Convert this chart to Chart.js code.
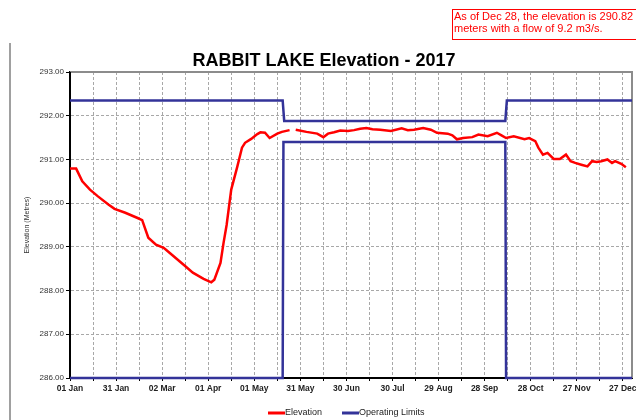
<!DOCTYPE html>
<html>
<head>
<meta charset="utf-8">
<script src="https://cdn.jsdelivr.net/npm/chart.js@4/dist/chart.umd.min.js"></script>
<style>
  body { margin: 0; background: #fff; }
  #wrap { width: 636px; height: 420px; }
</style>
</head>
<body>
<div id="wrap"><canvas id="lakeChart" width="636" height="420"></canvas></div>
<script>
// Elevation readings (day of year 2017, metres)
const elevDays = [0, 4, 8, 13, 18, 25, 29, 36, 44, 47, 51, 56, 61, 65, 74, 80, 87, 92, 94, 98,
  100, 102, 105, 109, 112, 114, 118, 122, 124, 127, 130, 135, 138, 143, 145, 147, 154, 161, 165, 168,
  172, 176, 181, 185, 189, 193, 197, 202, 209, 216, 220, 224, 230, 235, 239, 246, 249, 252, 256, 262,
  266, 272, 278, 281, 284, 289, 296, 299, 303, 305, 308, 311, 315, 319, 323, 326, 329, 333, 337, 340,
  343, 346, 350, 353, 355, 359, 362];
const elevValues = [290.79, 290.79, 290.50, 290.31, 290.16, 289.97, 289.87, 289.78, 289.66, 289.61,
  289.21, 289.05, 288.98, 288.86, 288.59, 288.41, 288.27, 288.19, 288.25, 288.63,
  289.09, 289.50, 290.31, 290.84, 291.27, 291.38, 291.47, 291.58, 291.62, 291.61,
  291.49, 291.59, 291.63, 291.67, null, 291.68, 291.63, 291.59, 291.51, 291.59,
  291.62, 291.66, 291.65, 291.67, 291.70, 291.72, 291.69, 291.68, 291.65, 291.71,
  291.67, 291.68, 291.72, 291.68, 291.61, 291.59, 291.55, 291.46, 291.49, 291.51,
  291.57, 291.53, 291.61, 291.55, 291.49, 291.53, 291.46, 291.49, 291.42, 291.27,
  291.11, 291.15, 291.01, 291.01, 291.11, 290.96, 290.92, 290.88, 290.84, 290.96,
  290.94, 290.96, 291.00, 290.92, 290.96, 290.90, 290.82];

// Operating limits
const upperDays = [0, 138.5, 139.5, 283.5, 284.5, 366];
const upperValues = [292.35, 292.35, 291.88, 291.88, 292.35, 292.35];
const lowerDays = [0, 138.5, 139, 283.5, 284, 366];
const lowerValues = [286.00, 286.00, 291.40, 291.40, 286.00, 286.00];

// Axis ticks
const gridDays = [0, 15, 30, 45, 60, 75, 90, 105, 120, 135, 150, 165, 180, 195, 210, 225, 240, 255, 270, 285, 300, 315, 330, 345, 360];
const labelDays = [0, 30, 60, 90, 120, 150, 180, 210, 240, 270, 300, 330, 360];
const tickLabels = ['01 Jan', '31 Jan', '02 Mar', '01 Apr', '01 May', '31 May', '30 Jun', '30 Jul', '29 Aug', '28 Sep', '28 Oct', '27 Nov', '27 Dec'];

const titleText = 'RABBIT LAKE Elevation - 2017';
const noteLines = ['As of Dec 28, the elevation is 290.82', 'meters with a flow of 9.2 m3/s.'];

const RED = '#ff0000';
const BLUE = '#333399';

function toPoints(xs, ys) {
    return xs.map((x, i) => ({ x: x, y: ys[i] }));
}

// titles, frame, legend and note drawn on top of the chart
const extras = {
    id: 'extras',
    beforeDatasetsDraw(chart) {
        const { ctx, chartArea: a } = chart;
        ctx.save();
        ctx.setLineDash([]);
        ctx.strokeStyle = '#8c8c8c';
        ctx.lineWidth = 2;
        ctx.beginPath();
        ctx.moveTo(a.left, a.top);
        ctx.lineTo(a.right, a.top);
        ctx.lineTo(a.right, a.bottom);
        ctx.stroke();
        // solid black axes
        ctx.strokeStyle = '#000';
        ctx.beginPath();
        ctx.moveTo(a.left, a.top);
        ctx.lineTo(a.left, a.bottom);
        ctx.lineTo(a.right, a.bottom);
        ctx.stroke();
        ctx.restore();
    },
    afterDraw(chart) {
        const { ctx, chartArea: a } = chart;
        ctx.save();
        ctx.setLineDash([]);
        // left page rule
        ctx.strokeStyle = '#a0a0a0';
        ctx.lineWidth = 2;
        ctx.beginPath();
        ctx.moveTo(10, 43);
        ctx.lineTo(10, 420);
        ctx.stroke();

        // title
        ctx.fillStyle = '#000';
        ctx.font = 'bold 18px Arial, "Liberation Sans", sans-serif';
        ctx.textAlign = 'center';
        ctx.textBaseline = 'middle';
        ctx.fillText(titleText, 324, 61);

        // y title
        ctx.save();
        ctx.translate(27, (a.top + a.bottom) / 2);
        ctx.rotate(-Math.PI / 2);
        ctx.font = '7px Arial, "Liberation Sans", sans-serif';
        ctx.fillStyle = '#333';
        ctx.fillText('Elevation (Metres)', 0, 0);
        ctx.restore();

        // note box
        ctx.strokeStyle = RED;
        ctx.lineWidth = 1;
        ctx.strokeRect(452.5, 9.5, 200, 30);
        ctx.fillStyle = RED;
        ctx.font = '11px Arial, "Liberation Sans", sans-serif';
        ctx.textAlign = 'left';
        ctx.fillText(noteLines[0], 454, 17);
        ctx.fillText(noteLines[1], 454, 29);

        // legend
        const items = [
            { text: chart.data.datasets[0].label, color: chart.data.datasets[0].borderColor, x: 268 },
            { text: chart.data.datasets[1].label, color: chart.data.datasets[1].borderColor, x: 342 }
        ];
        ctx.font = '9px Arial, "Liberation Sans", sans-serif';
        items.forEach(it => {
            ctx.strokeStyle = it.color;
            ctx.lineWidth = 3;
            ctx.beginPath();
            ctx.moveTo(it.x, 413);
            ctx.lineTo(it.x + 17, 413);
            ctx.stroke();
            ctx.fillStyle = '#222';
            ctx.fillText(it.text, it.x + 17, 413);
        });
        ctx.restore();
    }
};

const ctx = document.getElementById('lakeChart').getContext('2d');
new Chart(ctx, {
    type: 'line',
    data: {
        datasets: [
            {
                label: 'Elevation',
                data: toPoints(elevDays, elevValues),
                borderColor: RED,
                borderWidth: 2.5,
                pointRadius: 0,
                tension: 0,
                spanGaps: false,
                clip: false
            },
            {
                label: 'Operating Limits',
                data: toPoints(upperDays, upperValues),
                borderColor: BLUE,
                borderWidth: 2.5,
                pointRadius: 0,
                tension: 0,
                clip: false
            },
            {
                label: 'Operating Limits (low)',
                data: toPoints(lowerDays, lowerValues),
                borderColor: BLUE,
                borderWidth: 2.5,
                pointRadius: 0,
                tension: 0,
                clip: false
            }
        ]
    },
    options: {
        responsive: false,
        animation: false,
        layout: { padding: { top: 72, right: 4, bottom: 0, left: 0 } },
        plugins: {
            legend: { display: false },
            title: { display: false },
            tooltip: { enabled: false }
        },
        scales: {
            x: {
                type: 'linear',
                min: 0,
                max: 366,
                afterBuildTicks: scale => {
                    scale.ticks = gridDays.map(v => ({ value: v }));
                },
                afterFit: scale => {
                    scale.height = 42;
                    scale.paddingLeft = 0;
                    scale.paddingRight = 0;
                },
                border: { color: '#000', width: 2, dash: [3, 2] },
                grid: {
                    color: '#a8a8a8',
                    tickColor: '#000',
                    tickLength: 3,
                    lineWidth: 1
                },
                ticks: {
                    autoSkip: false,
                    maxRotation: 0,
                    padding: 3,
                    color: '#222',
                    font: { family: 'Arial, "Liberation Sans", sans-serif', size: 8.5, weight: 'bold' },
                    callback: value => {
                        const i = labelDays.indexOf(value);
                        return i >= 0 ? tickLabels[i] : '';
                    }
                }
            },
            y: {
                min: 286,
                max: 293,
                afterFit: scale => {
                    scale.width = 70;
                },
                border: { color: '#000', width: 2, dash: [3, 2] },
                grid: {
                    color: '#a8a8a8',
                    tickColor: '#000',
                    tickLength: 4,
                    lineWidth: 1
                },
                ticks: {
                    stepSize: 1,
                    padding: 2,
                    color: '#333',
                    font: { family: 'Arial, "Liberation Sans", sans-serif', size: 8 },
                    callback: value => value.toFixed(2)
                }
            }
        }
    },
    plugins: [extras]
});
</script>
</body>
</html>
